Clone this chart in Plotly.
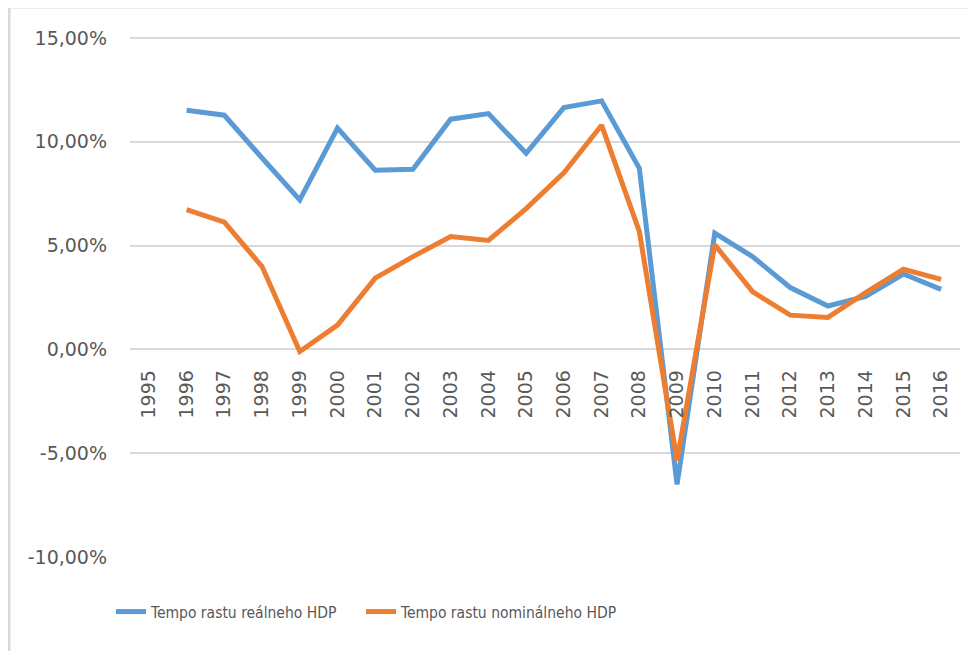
import plotly.graph_objects as go

years = [str(y) for y in range(1995, 2017)]
real_gdp = [None, 11.52, 11.28, 9.22, 7.20, 10.66, 8.63, 8.68, 11.09, 11.36, 9.45,
            11.65, 11.97, 8.73, -6.50, 5.60, 4.47, 2.98, 2.09, 2.55, 3.63, 2.89]
nominal_gdp = [None, 6.73, 6.13, 3.99, -0.10, 1.17, 3.43, 4.47, 5.44, 5.25, 6.78,
               8.51, 10.80, 5.68, -5.35, 5.04, 2.78, 1.65, 1.54, 2.73, 3.86, 3.37]
series_names = ["Tempo rastu reálneho HDP", "Tempo rastu nominálneho HDP"]
y_tickvals = [15, 10, 5, 0, -5, -10]
y_ticktext = ["15,00%", "10,00%", "5,00%", "0,00%", "-5,00%", "-10,00%"]

BLUE = "#5B9BD5"
ORANGE = "#ED7D31"
GRID = "#D9D9D9"
TEXT = "#595959"
TICKFONT = dict(family="DejaVu Sans, Verdana, sans-serif", size=19, color=TEXT)
LEGFONT = dict(family="DejaVu Sans Condensed, Liberation Sans Narrow, sans-serif",
               size=15.5, color=TEXT)

fig = go.Figure()
fig.add_trace(go.Scatter(x=years, y=real_gdp, mode="lines", name=series_names[0],
                         line=dict(color=BLUE, width=5), legend="legend"))
fig.add_trace(go.Scatter(x=years, y=nominal_gdp, mode="lines", name=series_names[1],
                         line=dict(color=ORANGE, width=5), legend="legend2"))

# page body has an 8px default margin, so the figure is drawn 8px in from the window edge
OFF = 8
W, H = 976 - OFF, 651 - OFF
Y_TOP_PX, Y_BOT_PX = 38, 557          # window px of the 15% and -10% gridlines
Y_MIN, Y_MAX = -10, 15
per_unit = (Y_BOT_PX - Y_TOP_PX) / (Y_MAX - Y_MIN)
T = 28
y_top_val = Y_MAX + ((Y_TOP_PX - OFF) - T) / per_unit
L, R, B = 130 - OFF, 16, H - (Y_BOT_PX - OFF)
pw, ph = W - L - R, H - T - B


def px_x(x):
    return (x - OFF - L) / pw


def px_y(y):
    return (H - B - (y - OFF)) / ph


leg_common = dict(orientation="h", xref="paper", yref="paper",
                  xanchor="left", yanchor="middle", font=LEGFONT,
                  bgcolor="rgba(0,0,0,0)", borderwidth=0)

fig.update_layout(
    width=W, height=H,
    margin=dict(l=L, r=R, t=T, b=B, pad=0, autoexpand=False),
    paper_bgcolor="white", plot_bgcolor="white",
    showlegend=True,
    legend=dict(x=px_x(111), y=px_y(612), **leg_common),
    legend2=dict(x=px_x(361), y=px_y(612), **leg_common),
    xaxis=dict(type="category", anchor="free", position=(0 - Y_MIN) / (y_top_val - Y_MIN),
               showgrid=False, showline=False, zeroline=False,
               tickangle=-90, tickfont=TICKFONT, ticks="",
               ticklabelstandoff=16, range=[-0.5, 21.5], automargin=False),
    yaxis=dict(range=[Y_MIN, y_top_val], tickvals=y_tickvals, ticktext=y_ticktext,
               showgrid=True, gridcolor=GRID, gridwidth=2,
               zeroline=True, zerolinecolor=GRID, zerolinewidth=2,
               showline=False, ticks="", tickfont=TICKFONT,
               ticklabelstandoff=22, automargin=False),
    shapes=[dict(type="rect", xref="paper", yref="paper",
                 x0=px_x(9), x1=px_x(990), y0=px_y(670), y1=px_y(7),
                 line=dict(color=GRID, width=3), fillcolor="rgba(0,0,0,0)",
                 layer="below")],
)

fig.write_html("out.html")
